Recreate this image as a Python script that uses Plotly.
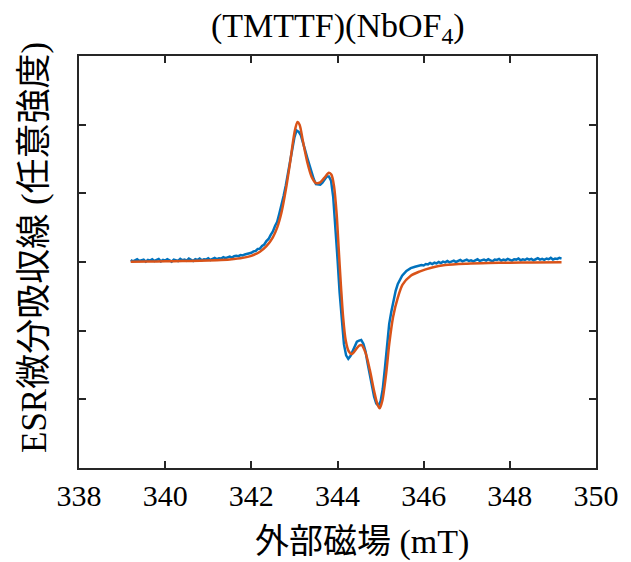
import plotly.graph_objects as go

# ---- data ----
x_ticks = [338, 340, 342, 344, 346, 348, 350]

fit_field = [339.2, 339.6, 340.0, 340.4, 340.8, 341.2, 341.5, 341.8, 342.0, 342.2,
             342.35, 342.5, 342.6, 342.7, 342.8, 342.9, 343.0, 343.07, 343.12, 343.2,
             343.3, 343.4, 343.5, 343.6, 343.7, 343.8, 343.86, 343.92, 343.98, 344.03,
             344.08, 344.13, 344.19, 344.26, 344.33, 344.42, 344.5, 344.56, 344.65, 344.75,
             344.85, 344.93, 344.98, 345.04, 345.13, 345.2, 345.29, 345.4, 345.51, 345.7,
             345.9, 346.2, 346.5, 347.0, 347.5, 348.0, 348.5, 349.2]
fit_signal = [0.005, 0.007, 0.01, 0.013, 0.018, 0.027, 0.038, 0.06, 0.09, 0.15,
              0.23, 0.36, 0.50, 0.72, 1.05, 1.45, 1.88, 2.04, 2.0, 1.75,
              1.45, 1.24, 1.15, 1.16, 1.23, 1.30, 1.27, 1.10, 0.70, 0.17,
              -0.35, -0.80, -1.14, -1.30, -1.34, -1.28, -1.22, -1.21, -1.32, -1.57,
              -1.88, -2.08, -2.13, -2.02, -1.62, -1.2, -0.80, -0.52, -0.33, -0.20,
              -0.14, -0.08, -0.045, -0.025, -0.015, -0.01, -0.007, -0.005]

exp_field = [
    339.20, 339.25, 339.30, 339.35, 339.40, 339.45, 339.50, 339.55, 339.60, 339.65,
    339.70, 339.75, 339.80, 339.85, 339.90, 339.95, 340.00, 340.05, 340.10, 340.15,
    340.20, 340.25, 340.30, 340.35, 340.40, 340.45, 340.50, 340.55, 340.60, 340.65,
    340.70, 340.75, 340.80, 340.85, 340.90, 340.95, 341.00, 341.05, 341.10, 341.15,
    341.20, 341.25, 341.30, 341.35, 341.40, 341.45, 341.50, 341.55, 341.60, 341.65,
    341.70, 341.75, 341.80, 341.85, 341.90, 341.95, 342.00, 342.05, 342.10, 342.15,
    342.20, 342.25, 342.30, 342.35, 342.40, 342.45, 342.50, 342.55, 342.60, 342.65,
    342.70, 342.75, 342.80, 342.85, 342.90, 342.95, 343.00, 343.05, 343.10, 343.15,
    343.20, 343.25, 343.30, 343.35, 343.40, 343.45, 343.50, 343.55, 343.60, 343.65,
    343.70, 343.75, 343.80, 343.85, 343.90, 343.95, 344.00, 344.05, 344.10, 344.15,
    344.20, 344.25, 344.30, 344.35, 344.40, 344.45, 344.50, 344.55, 344.60, 344.65,
    344.70, 344.75, 344.80, 344.85, 344.90, 344.95, 345.00, 345.05, 345.10, 345.15,
    345.20, 345.25, 345.30, 345.35, 345.40, 345.45, 345.50, 345.60, 345.70, 345.80,
    345.90, 345.95, 346.00, 346.05, 346.10, 346.15, 346.20, 346.25, 346.30, 346.35,
    346.40, 346.45, 346.50, 346.55, 346.60, 346.65, 346.70, 346.75, 346.80, 346.85,
    346.90, 346.95, 347.00, 347.05, 347.10, 347.15, 347.20, 347.25, 347.30, 347.35,
    347.40, 347.45, 347.50, 347.55, 347.60, 347.65, 347.70, 347.75, 347.80, 347.85,
    347.90, 347.95, 348.00, 348.05, 348.10, 348.15, 348.20, 348.25, 348.30, 348.35,
    348.40, 348.45, 348.50, 348.55, 348.60, 348.65, 348.70, 348.75, 348.80, 348.85,
    348.90, 348.95, 349.00, 349.05, 349.10, 349.15, 349.20]
exp_signal = [
    0.030, 0.010, 0.025, 0.040, 0.015, 0.020, 0.035, 0.005, 0.030, 0.020,
    0.040, 0.015, 0.025, 0.045, 0.010, 0.030, 0.020, 0.040, 0.025, 0.005,
    0.035, 0.030, 0.015, 0.045, 0.025, 0.035, 0.020, 0.050, 0.030, 0.015,
    0.040, 0.030, 0.050, 0.025, 0.040, 0.035, 0.055, 0.030, 0.045, 0.060,
    0.040, 0.055, 0.050, 0.070, 0.055, 0.065, 0.080, 0.065, 0.085, 0.090,
    0.085, 0.100, 0.095, 0.110, 0.115, 0.130, 0.135, 0.155, 0.160, 0.190,
    0.195, 0.235, 0.255, 0.305, 0.335, 0.395, 0.445, 0.525, 0.585, 0.705,
    0.815, 0.965, 1.115, 1.305, 1.475, 1.675, 1.815, 1.915, 1.895, 1.845,
    1.715, 1.625, 1.515, 1.405, 1.295, 1.205, 1.135, 1.125, 1.125, 1.155,
    1.195, 1.245, 1.245, 1.185, 0.95, 0.55, 0.05, -0.45, -0.88, -1.20,
    -1.36, -1.41, -1.37, -1.29, -1.22, -1.16, -1.145, -1.135, -1.19, -1.30,
    -1.48, -1.65, -1.82, -1.96, -2.06, -2.09, -2.03, -1.85, -1.55, -1.20,
    -0.90, -0.72, -0.55, -0.42, -0.32, -0.25, -0.20, -0.13, -0.09, -0.07,
    -0.055, -0.045, -0.050, -0.030, -0.035, -0.015, -0.030, -0.010, -0.020, 0.000,
    -0.015, 0.005, -0.005, 0.015, -0.005, 0.010, 0.020, 0.000, 0.015, 0.030,
    0.010, 0.020, 0.035, 0.015, 0.025, 0.010, 0.030, 0.040, 0.015, 0.025,
    0.035, 0.020, 0.040, 0.025, 0.010, 0.035, 0.030, 0.045, 0.020, 0.035,
    0.025, 0.045, 0.030, 0.020, 0.040, 0.035, 0.050, 0.025, 0.040, 0.030,
    0.050, 0.035, 0.045, 0.025, 0.040, 0.055, 0.035, 0.045, 0.030, 0.050,
    0.040, 0.060, 0.035, 0.050, 0.045, 0.060, 0.050]

BLUE = "#0072BD"
RED = "#D95319"
AX = "#262626"
FONT = "Liberation Serif, 'Noto Sans CJK JP', serif"

fig = go.Figure()
fig.add_trace(go.Scatter(x=exp_field, y=exp_signal, mode="lines",
                         line=dict(color=BLUE, width=2.5), showlegend=False))
fig.add_trace(go.Scatter(x=fit_field, y=fit_signal, mode="lines",
                         line=dict(color=RED, width=2.5, shape="spline", smoothing=0.8),
                         showlegend=False))

axis_common = dict(showgrid=False, zeroline=False, showline=True, linecolor=AX,
                   linewidth=2, mirror="ticks", ticks="inside", ticklen=7,
                   tickwidth=2, tickcolor=AX)

fig.update_layout(
    width=623, height=554,
    margin=dict(l=71, r=29, t=48, b=94),
    paper_bgcolor="white", plot_bgcolor="white",
    font=dict(family=FONT, color="black"),
    xaxis=dict(range=[338, 350], tickvals=x_ticks, ticktext=[str(v) for v in x_ticks],
               tickfont=dict(size=30, family=FONT, color="black"),
               ticklabelstandoff=0, **axis_common),
    yaxis=dict(range=[-3, 3], dtick=1, showticklabels=False, **axis_common),
    annotations=[
        dict(text="(TMTTF)(NbOF<sub>4</sub>)", xref="paper", yref="paper",
             x=0.5, y=1, yshift=28, xanchor="center", yanchor="middle",
             showarrow=False, font=dict(size=34, family=FONT, color="black")),
        dict(text="外部磁場 (mT)", xref="paper", yref="paper",
             x=0.547, y=0, yshift=-74, xanchor="center", yanchor="middle",
             showarrow=False, font=dict(size=34, family=FONT, color="black")),
        dict(text="ESR微分吸収線 (任意強度)", xref="paper", yref="paper",
             x=0, y=0.5, xshift=-45, yshift=14, xanchor="center", yanchor="middle",
             textangle=-90, showarrow=False,
             font=dict(size=35, family=FONT, color="black")),
    ],
)

fig.write_html("out.html")
